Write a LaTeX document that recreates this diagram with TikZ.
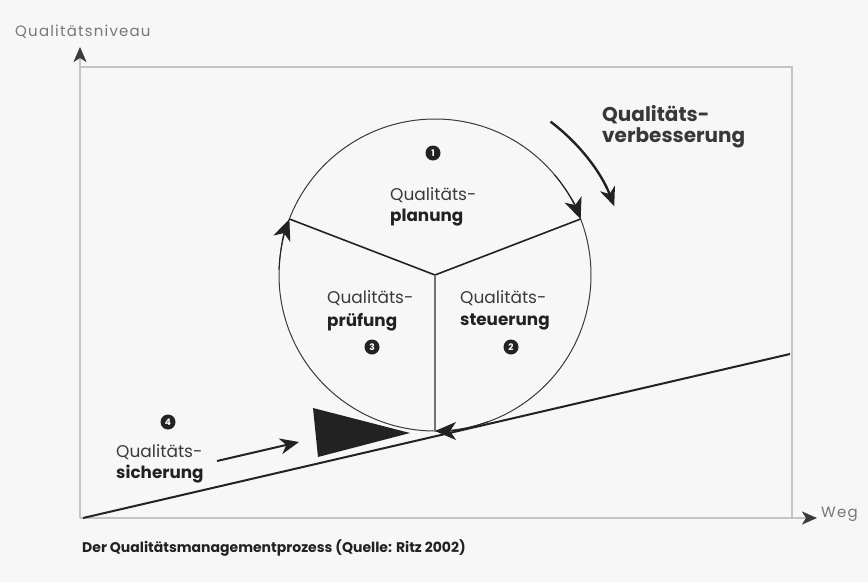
\documentclass[tikz,border=0pt]{standalone}
\usepackage{fontspec}
\setmainfont{Poppins}
\newfontfamily\axisfont[LetterSpace=8]{Poppins}
\usetikzlibrary{arrows.meta,calc}
\definecolor{bg}{HTML}{F7F7F7}
\definecolor{frame}{HTML}{C4C4C4}
\definecolor{ink}{HTML}{222222}
\definecolor{soft}{HTML}{3A3A3A}
\definecolor{axistext}{HTML}{777777}
\tikzset{
  framel/.style={draw=frame,line width=2pt},
  axislbl/.style={anchor=west,inner sep=0pt,text=axistext,font=\axisfont\fontsize{15}{15}\selectfont},
  lbl/.style={anchor=west,inner sep=0pt,text=soft,font=\fontsize{17}{17}\selectfont},
  lblb/.style={anchor=west,inner sep=0pt,text=ink,font=\fontsize{16.8}{17}\selectfont\bfseries},
  lblbig/.style={anchor=west,inner sep=0pt,text=black!78,font=\fontsize{20}{20}\selectfont\bfseries},
  bullet/.style={circle,fill=ink,inner sep=0pt,minimum size=15pt,text=white,font=\fontsize{9}{9}\selectfont\bfseries},
  tip/.style={-{Stealth[length=19pt,width=16pt,inset=6pt]}},
  ctip/.style={-{Stealth[length=21pt,width=18pt,inset=6pt]}},
}
\begin{document}
\begin{tikzpicture}[x=1pt,y=-1pt]
\useasboundingbox (0,0) rectangle (868,582);
\fill[bg] (0,0) rectangle (868,582);
% frame and axes
\coordinate (O) at (80,518);
\coordinate (Ytop) at (80,47);
\coordinate (Xend) at (817,518);
\coordinate (TL) at (80,67);
\coordinate (TR) at (792,67);
\coordinate (BR) at (792,518);
\draw[framel] (TL) -- (TR) -- (BR);
\draw[framel,-{Stealth[length=15pt,width=13pt,inset=4pt,color=soft]}] (O) -- (Ytop);
\draw[framel,-{Stealth[length=15pt,width=13pt,inset=4pt,color=soft]}] (O) -- (Xend);
\node[axislbl] (ylab) at (15,32) {Qualitätsniveau};
\node[axislbl] (xlab) at (821,514) {Weg};
% ramp
\coordinate (R0) at (83,518);
\coordinate (R1) at (790,354);
\draw[ink,line width=2pt] (R0) -- (R1);
% circle
\coordinate (C) at (435,275);
\coordinate (L) at (289.4,219);
\coordinate (R) at (580.6,219);
\coordinate (B) at (435,431);
\draw[soft,line width=1pt] (C) circle (156pt);
\draw[ink,line width=1.6pt] (L) -- (C) -- (R);
\draw[black!55,line width=2.4pt] (C) -- (B);
% arrowheads on circle (short arcs ending at the spokes)
\draw[ink,line width=1pt,ctip] ($(C)+(178:156pt)$) arc[start angle=178,end angle=159,radius=156pt];
\draw[ink,line width=1pt,ctip] ($(C)+(40:156pt)$) arc[start angle=40,end angle=21,radius=156pt];
\draw[ink,line width=1pt,ctip] ($(C)+(-70:156pt)$) arc[start angle=-70,end angle=-90,radius=156pt];
% improvement arc
\draw[ink,line width=2.4pt,tip] ($(C)+(53:192pt)$) arc[start angle=53,end angle=21,radius=192pt];
% wedge
\coordinate (W1) at (313,408);
\coordinate (W2) at (318,457);
\coordinate (W3) at (410,433);
\fill[ink] (W1) -- (W2) -- (W3) -- cycle;
% assurance arrow
\coordinate (S0) at (217,461);
\coordinate (S1) at (299,442);
\draw[ink,line width=2pt,tip] (S0) -- (S1);
% labels
\node[bullet] (b1) at (433,153) {1};
\node[lbl] (t1a) at (390,195) {Qualitäts-};
\node[lblb] (t1b) at (390,218) {planung};
\node[lbl] (t3a) at (327,298) {Qualitäts-};
\node[lblb] (t3b) at (327,322) {prüfung};
\node[bullet] (b3) at (372,347) {3};
\node[lbl] (t2a) at (460,298) {Qualitäts-};
\node[lblb] (t2b) at (460,322) {steuerung};
\node[bullet] (b2) at (511,347) {2};
\node[bullet] (b4) at (168,422) {4};
\node[lbl] (t4a) at (116,452) {Qualitäts-};
\node[lblb] (t4b) at (116,474) {sicherung};
\node[lblbig] (t5a) at (602,115) {Qualitäts-};
\node[lblbig] (t5b) at (602,138) {verbesserung};
\node[anchor=west,inner sep=0pt,text=ink,font=\fontsize{14}{14}\selectfont\bfseries] (cap) at (82,548) {Der Qualitätsmanagementprozess (Quelle: Ritz 2002)};
\end{tikzpicture}
\end{document}
